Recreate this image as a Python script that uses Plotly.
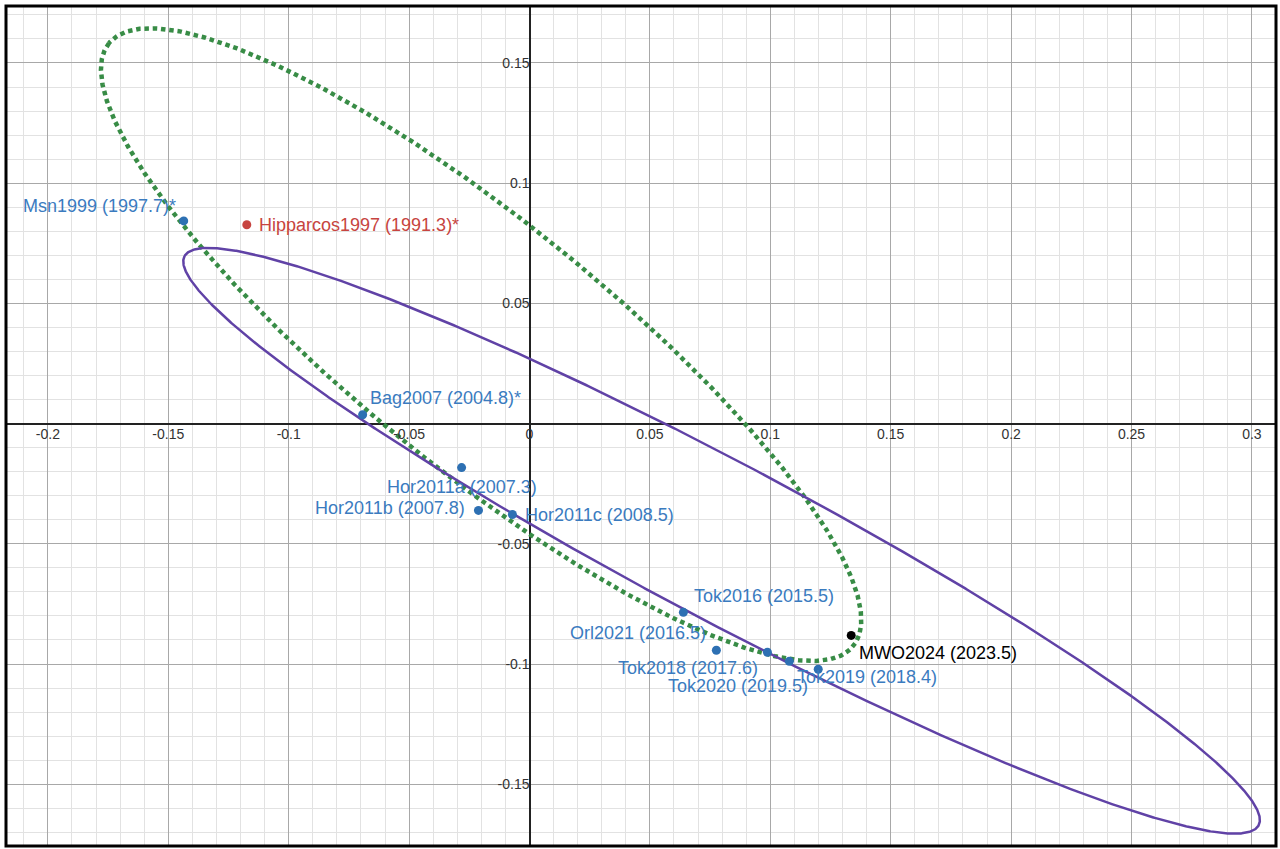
import numpy as np
import plotly.graph_objects as go

# Orbit ellipses: centre x, centre y, semi-major, semi-minor, angle (deg)
orbit_purple = dict(cx=0.07976, cy=-0.04874, a=0.25250, b=0.03251, angle=152.04)
orbit_green = dict(cx=-0.02009, cy=0.03285, a=0.19901, b=0.05138, angle=140.94)

# Observations
names = ["Msn1999 (1997.7)*", "Hipparcos1997 (1991.3)*", "Bag2007 (2004.8)*",
         "Hor2011a (2007.3)", "Hor2011b (2007.8)", "Hor2011c (2008.5)",
         "Tok2016 (2015.5)", "Orl2021 (2016.5)", "Tok2018 (2017.6)",
         "Tok2020 (2019.5)", "Tok2019 (2018.4)", "MWO2024 (2023.5)"]
xs = [-0.1436, -0.1174, -0.0693, -0.0282, -0.0212, -0.0071, 0.0639, 0.0776, 0.0988, 0.1079, 0.1199, 0.1336]
ys = [0.0843, 0.0827, 0.0037, -0.0183, -0.0361, -0.0378, -0.0785, -0.0943, -0.0951, -0.0989, -0.1022, -0.0881]
kinds = ["blue", "red", "blue", "blue", "blue", "blue", "blue", "blue", "blue", "blue", "blue", "black"]

# Tick values
x_ticks = [-0.2, -0.15, -0.1, -0.05, 0, 0.05, 0.1, 0.15, 0.2, 0.25, 0.3]
x_tick_text = ["-0.2", "-0.15", "-0.1", "-0.05", "0", "0.05", "0.1", "0.15", "0.2", "0.25", "0.3"]
y_ticks = [-0.15, -0.1, -0.05, 0.05, 0.1, 0.15]
y_tick_text = ["-0.15", "-0.1", "-0.05", "0.05", "0.1", "0.15"]

x_range = [-0.2174, 0.3100]
y_range = [-0.1757, 0.1737]

colors = {"blue": "#2d70b3", "red": "#c74440", "black": "#000000"}
label_colors = {"blue": "#3a7bbf", "red": "#c74440", "black": "#000000"}

# label placement: (xanchor, xshift, yshift)
label_place = [("right", -6, 15), ("left", 10, 0), ("left", 5, 17),
               ("center", 0, -19), ("right", -11, 2), ("left", 11, -1),
               ("left", 9, 16), ("right", -8, 17), ("right", -7, -16),
               ("right", 21, -25), ("left", -23, -8), ("left", 6, -18)]


def ellipse(p, n=1441):
    t = np.linspace(0, 2 * np.pi, n)
    th = np.radians(p["angle"])
    ex = p["cx"] + p["a"] * np.cos(t) * np.cos(th) - p["b"] * np.sin(t) * np.sin(th)
    ey = p["cy"] + p["a"] * np.cos(t) * np.sin(th) + p["b"] * np.sin(t) * np.cos(th)
    return ex, ey


fig = go.Figure()
gx, gy = ellipse(orbit_green)
fig.add_trace(go.Scatter(x=gx, y=gy, mode="lines",
                         line=dict(color="#388c46", width=4.5, dash="4.5px,3.8px"), hoverinfo="skip"))
px_, py_ = ellipse(orbit_purple)
fig.add_trace(go.Scatter(x=px_, y=py_, mode="lines",
                         line=dict(color="#6042a6", width=2.5), hoverinfo="skip"))
fig.add_trace(go.Scatter(x=xs, y=ys, mode="markers",
                         marker=dict(size=9, color=[colors[k] for k in kinds]),
                         text=names, hoverinfo="text"))

for nm, x, y, k, (xa, dx, dy) in zip(names, xs, ys, kinds, label_place):
    fig.add_annotation(x=x, y=y, text=nm, showarrow=False, xanchor=xa, yanchor="middle",
                       xshift=dx, yshift=dy,
                       font=dict(family="Liberation Sans, Arial", size=18, color=label_colors[k]))

axis_common = dict(showgrid=True, gridcolor="#a8a8a8", gridwidth=1,
                   zeroline=True, zerolinecolor="#222222", zerolinewidth=2,
                   showline=False, ticks="", anchor="free",
                   tickfont=dict(family="Liberation Sans, Arial", size=14, color="#333333"),
                   minor=dict(dtick=0.01, tick0=0, showgrid=True, gridcolor="#e2e2e2", gridwidth=1))

y_pos = (0 - y_range[0]) / (y_range[1] - y_range[0])
x_pos = (0 - x_range[0]) / (x_range[1] - x_range[0])

fig.update_layout(
    width=1280, height=849,
    margin=dict(l=6, r=4, t=6, b=3, autoexpand=False),
    plot_bgcolor="white", paper_bgcolor="white", showlegend=False,
    xaxis=dict(range=x_range, tickvals=x_ticks, ticktext=x_tick_text, position=y_pos, **axis_common),
    yaxis=dict(range=y_range, tickvals=y_ticks, ticktext=y_tick_text, position=x_pos, **axis_common),
)

# frame of the screenshot
fig.add_shape(type="rect", xref="paper", yref="paper", x0=0, y0=0, x1=1, y1=1,
              line=dict(color="#000000", width=3), layer="above")

fig.write_html("out.html", config={"displayModeBar": False},
               post_script="document.body.style.margin='0px';document.body.style.overflow='hidden';")
